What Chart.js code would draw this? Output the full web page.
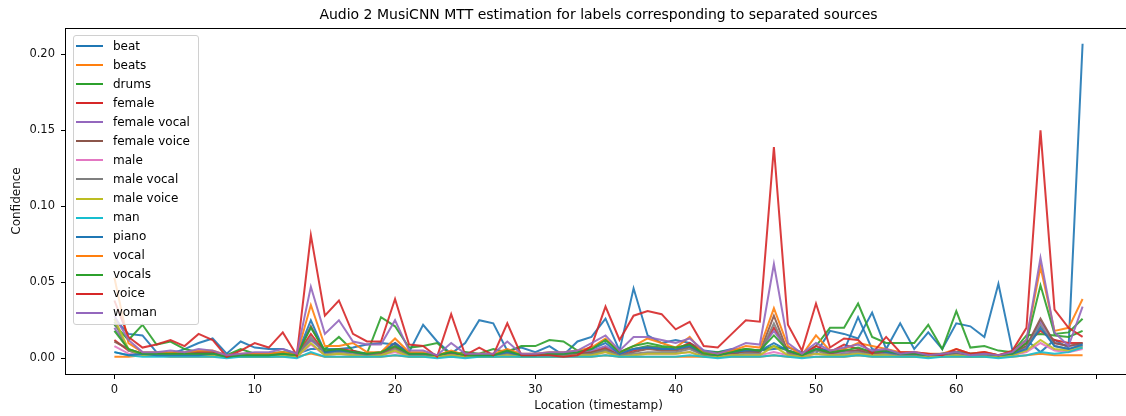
<!DOCTYPE html>
<html>
<head>
<meta charset="utf-8">
<script src="https://cdn.jsdelivr.net/npm/chart.js@4/dist/chart.umd.min.js"></script>
<style>
  html, body { margin: 0; padding: 0; background: #fff; overflow: hidden; }
  #wrap { position: relative; width: 1126px; height: 416px; overflow: hidden; }
  #legend {
    position: absolute; left: 73px; top: 35px; width: 124px; height: 288px;
    background: rgba(255,255,255,0.8); border: 1px solid #d0d0d0; border-radius: 3px;
    font-family: 'DejaVu Sans', sans-serif; font-size: 12px; color: #000;
  }
  #legend .row { position: absolute; left: 0; height: 19px; line-height: 19px; white-space: nowrap; }
  #legend .swatch { position: absolute; left: 2px; top: 8.5px; width: 27px; height: 2px; }
  #legend .txt { position: absolute; left: 39px; top: 0; }
</style>
</head>
<body>
<div id="wrap">
  <canvas id="chart" width="1140" height="416"></canvas>
  <div id="legend"></div>
</div>
<script>
// x locations (timestamps)
const locations = [0,1,2,3,4,5,6,7,8,9,10,11,12,13,14,15,16,17,18,19,20,21,22,23,24,25,26,27,28,29,
  30,31,32,33,34,35,36,37,38,39,40,41,42,43,44,45,46,47,48,49,50,51,52,53,54,55,56,57,58,59,
  60,61,62,63,64,65,66,67,68,69];

const labelNames = ['beat', 'beats', 'drums', 'female', 'female vocal', 'female voice', 'male',
  'male vocal', 'male voice', 'man', 'piano', 'vocal', 'vocals', 'voice', 'woman'];

const colors = ['#1f77b4', '#ff7f0e', '#2ca02c', '#d62728', '#9467bd', '#8c564b', '#e377c2',
  '#7f7f7f', '#bcbd22', '#17becf', '#1f77b4', '#ff7f0e', '#2ca02c', '#d62728', '#9467bd'];

const xTicks = [0, 10, 20, 30, 40, 50, 60, 70];
const yTicks = [0.00, 0.05, 0.10, 0.15, 0.20];

const beat = [0.026,0.016,0.015,0.004,0.003,0.006,0.010,0.013,0.003,0.011,
  0.007,0.006,0.006,0.003,0.006,0.006,0.006,0.007,0.009,0.010,
  0.009,0.004,0.022,0.011,0.003,0.010,0.025,0.023,0.005,0.007,
  0.004,0.008,0.002,0.011,0.014,0.026,0.005,0.046,0.015,0.010,
  0.012,0.010,0.005,0.004,0.006,0.005,0.005,0.006,0.007,0.004,
  0.003,0.018,0.016,0.013,0.030,0.006,0.023,0.006,0.017,0.006,
  0.023,0.021,0.014,0.049,0.005,0.012,0.004,0.012,0.007,0.207];

const beats = [0.001,0.001,0.002,0.002,0.001,0.001,0.001,0.001,0.001,0.001,
  0.001,0.001,0.001,0.001,0.003,0.001,0.001,0.001,0.001,0.001,
  0.002,0.001,0.001,0.001,0.001,0.001,0.001,0.001,0.001,0.001,
  0.001,0.001,0.001,0.001,0.001,0.002,0.001,0.001,0.001,0.001,
  0.001,0.001,0.001,0.001,0.001,0.001,0.001,0.002,0.001,0.001,
  0.001,0.001,0.001,0.002,0.001,0.001,0.001,0.001,0.001,0.001,
  0.001,0.001,0.001,0.001,0.001,0.002,0.003,0.002,0.002,0.002];

const drums = [0.022,0.012,0.022,0.009,0.011,0.006,0.004,0.004,0.002,0.006,
  0.003,0.003,0.004,0.003,0.012,0.006,0.014,0.005,0.003,0.027,
  0.021,0.007,0.008,0.010,0.002,0.004,0.003,0.006,0.004,0.008,
  0.008,0.012,0.011,0.005,0.003,0.005,0.004,0.006,0.008,0.007,
  0.006,0.009,0.004,0.004,0.005,0.006,0.005,0.008,0.005,0.003,
  0.008,0.020,0.020,0.036,0.014,0.010,0.010,0.010,0.022,0.006,
  0.031,0.007,0.008,0.005,0.004,0.015,0.016,0.015,0.014,0.018];

const female = [0.012,0.005,0.003,0.003,0.003,0.003,0.004,0.004,0.001,0.002,
  0.003,0.002,0.003,0.002,0.016,0.004,0.006,0.005,0.002,0.003,
  0.010,0.003,0.003,0.001,0.004,0.001,0.002,0.002,0.004,0.002,
  0.002,0.002,0.002,0.003,0.004,0.007,0.003,0.005,0.007,0.006,
  0.006,0.010,0.003,0.002,0.003,0.005,0.004,0.020,0.005,0.002,
  0.008,0.004,0.009,0.006,0.004,0.004,0.003,0.003,0.002,0.002,
  0.004,0.002,0.003,0.002,0.003,0.010,0.018,0.012,0.010,0.010];

const femaleVocal = [0.020,0.006,0.003,0.003,0.003,0.003,0.003,0.003,0.001,0.002,
  0.002,0.002,0.003,0.002,0.012,0.004,0.005,0.004,0.002,0.003,
  0.008,0.002,0.002,0.001,0.003,0.002,0.002,0.002,0.004,0.002,
  0.002,0.002,0.002,0.003,0.005,0.008,0.003,0.006,0.007,0.006,
  0.006,0.008,0.002,0.002,0.003,0.005,0.005,0.018,0.005,0.002,
  0.006,0.003,0.004,0.005,0.003,0.004,0.002,0.002,0.002,0.002,
  0.003,0.002,0.002,0.002,0.003,0.008,0.024,0.010,0.008,0.009];

const femaleVoice = [0.011,0.006,0.003,0.003,0.003,0.003,0.003,0.003,0.001,0.002,
  0.002,0.002,0.003,0.002,0.021,0.004,0.005,0.004,0.002,0.003,
  0.007,0.002,0.002,0.001,0.003,0.001,0.002,0.002,0.003,0.002,
  0.002,0.002,0.002,0.003,0.004,0.006,0.002,0.004,0.006,0.005,
  0.005,0.007,0.002,0.002,0.003,0.004,0.004,0.028,0.004,0.001,
  0.006,0.003,0.005,0.005,0.003,0.004,0.002,0.002,0.002,0.002,
  0.003,0.002,0.002,0.001,0.003,0.008,0.026,0.010,0.008,0.010];

const male = [0.008,0.003,0.002,0.002,0.002,0.002,0.002,0.002,0.001,0.001,
  0.001,0.001,0.002,0.001,0.009,0.002,0.003,0.002,0.001,0.002,
  0.004,0.001,0.001,0.001,0.002,0.001,0.001,0.001,0.002,0.001,
  0.001,0.001,0.001,0.002,0.002,0.004,0.001,0.002,0.003,0.003,
  0.003,0.004,0.001,0.001,0.002,0.002,0.002,0.004,0.002,0.001,
  0.003,0.002,0.002,0.003,0.002,0.002,0.001,0.001,0.001,0.001,
  0.002,0.001,0.001,0.001,0.002,0.004,0.010,0.005,0.004,0.006];

const maleVocal = [0.024,0.005,0.002,0.002,0.002,0.002,0.002,0.002,0.001,0.001,
  0.001,0.001,0.002,0.001,0.014,0.003,0.004,0.003,0.002,0.002,
  0.006,0.002,0.002,0.001,0.002,0.001,0.001,0.001,0.003,0.001,
  0.001,0.002,0.002,0.002,0.003,0.005,0.002,0.003,0.004,0.004,
  0.004,0.006,0.002,0.001,0.002,0.003,0.003,0.023,0.003,0.001,
  0.005,0.002,0.003,0.004,0.002,0.003,0.002,0.002,0.001,0.002,
  0.002,0.001,0.002,0.001,0.002,0.007,0.022,0.008,0.006,0.008];

const maleVoice = [0.026,0.006,0.002,0.002,0.002,0.002,0.002,0.002,0.001,0.001,
  0.001,0.001,0.002,0.001,0.010,0.002,0.003,0.002,0.001,0.002,
  0.005,0.001,0.001,0.001,0.002,0.001,0.001,0.001,0.002,0.001,
  0.001,0.001,0.001,0.002,0.002,0.004,0.001,0.002,0.003,0.003,
  0.003,0.004,0.001,0.001,0.002,0.002,0.002,0.008,0.002,0.001,
  0.003,0.002,0.002,0.003,0.002,0.002,0.001,0.001,0.001,0.001,
  0.002,0.001,0.001,0.001,0.002,0.005,0.012,0.006,0.005,0.007];

const man = [0.004,0.002,0.001,0.001,0.001,0.001,0.001,0.001,0.000,0.001,
  0.001,0.001,0.001,0.000,0.004,0.001,0.001,0.001,0.001,0.001,
  0.002,0.001,0.001,0.000,0.001,0.000,0.001,0.001,0.001,0.001,
  0.001,0.001,0.001,0.001,0.001,0.002,0.001,0.001,0.001,0.001,
  0.001,0.002,0.001,0.000,0.001,0.001,0.001,0.002,0.001,0.000,
  0.001,0.001,0.001,0.002,0.001,0.001,0.001,0.001,0.000,0.001,
  0.001,0.001,0.001,0.000,0.001,0.002,0.004,0.003,0.004,0.007];

const piano = [0.004,0.002,0.003,0.002,0.002,0.002,0.002,0.003,0.001,0.002,
  0.002,0.002,0.003,0.002,0.025,0.004,0.005,0.004,0.003,0.004,
  0.010,0.003,0.003,0.002,0.004,0.002,0.002,0.002,0.004,0.002,
  0.002,0.003,0.003,0.004,0.006,0.010,0.003,0.006,0.007,0.006,
  0.006,0.008,0.003,0.002,0.004,0.005,0.005,0.010,0.005,0.002,
  0.006,0.005,0.005,0.027,0.006,0.004,0.003,0.003,0.002,0.003,
  0.004,0.003,0.003,0.002,0.003,0.006,0.020,0.008,0.006,0.009];

const vocal = [0.053,0.010,0.004,0.004,0.004,0.004,0.005,0.005,0.002,0.003,
  0.003,0.003,0.004,0.002,0.035,0.008,0.008,0.010,0.004,0.004,
  0.013,0.004,0.004,0.002,0.005,0.002,0.003,0.003,0.006,0.003,
  0.003,0.004,0.004,0.005,0.007,0.013,0.004,0.008,0.013,0.010,
  0.007,0.014,0.003,0.003,0.005,0.008,0.007,0.033,0.008,0.002,
  0.015,0.005,0.006,0.010,0.008,0.006,0.004,0.004,0.003,0.003,
  0.006,0.003,0.004,0.002,0.004,0.012,0.060,0.018,0.020,0.039];

const vocals = [0.018,0.006,0.003,0.003,0.003,0.003,0.003,0.003,0.001,0.002,
  0.002,0.002,0.003,0.002,0.020,0.005,0.006,0.004,0.003,0.004,
  0.008,0.003,0.003,0.002,0.004,0.002,0.002,0.002,0.005,0.002,
  0.002,0.003,0.003,0.004,0.006,0.012,0.004,0.008,0.010,0.008,
  0.007,0.009,0.003,0.002,0.004,0.006,0.005,0.015,0.005,0.002,
  0.006,0.004,0.005,0.007,0.004,0.005,0.003,0.003,0.002,0.003,
  0.004,0.003,0.003,0.002,0.003,0.010,0.048,0.016,0.017,0.026];

const voice = [0.038,0.014,0.007,0.009,0.012,0.008,0.016,0.012,0.001,0.005,
  0.010,0.007,0.017,0.002,0.081,0.028,0.038,0.016,0.011,0.011,
  0.039,0.009,0.008,0.001,0.029,0.002,0.007,0.002,0.023,0.002,
  0.002,0.002,0.001,0.002,0.008,0.034,0.012,0.028,0.031,0.029,
  0.019,0.024,0.008,0.007,0.016,0.025,0.024,0.139,0.022,0.005,
  0.036,0.007,0.013,0.012,0.003,0.014,0.004,0.004,0.003,0.002,
  0.006,0.003,0.004,0.002,0.005,0.020,0.150,0.032,0.020,0.014];

const woman = [0.028,0.012,0.004,0.004,0.005,0.004,0.006,0.005,0.002,0.003,
  0.004,0.004,0.006,0.003,0.047,0.016,0.025,0.011,0.009,0.009,
  0.025,0.005,0.005,0.002,0.010,0.003,0.003,0.003,0.011,0.003,
  0.003,0.004,0.004,0.005,0.010,0.015,0.005,0.014,0.014,0.012,
  0.010,0.013,0.005,0.003,0.006,0.010,0.009,0.062,0.010,0.003,
  0.010,0.005,0.007,0.009,0.005,0.006,0.003,0.004,0.002,0.003,
  0.004,0.002,0.003,0.002,0.004,0.012,0.066,0.017,0.008,0.034];

const seriesValues = [beat, beats, drums, female, femaleVocal, femaleVoice, male,
  maleVocal, maleVoice, man, piano, vocal, vocals, voice, woman];

Chart.defaults.font.family = "'DejaVu Sans', sans-serif";
Chart.defaults.color = '#111';

const datasets = labelNames.map((name, i) => ({
  label: name,
  data: locations.map((x, j) => ({ x: x, y: seriesValues[i][j] })),
  borderColor: colors[i] + 'e6',
  backgroundColor: colors[i],
  borderWidth: 2,
  pointRadius: 0,
  tension: 0,
  fill: false,
  order: labelNames.length - i  // later series on top, like matplotlib
}));

// axes frame (spines) and title, drawn matplotlib-style
const framePlugin = {
  id: 'frame',
  afterDatasetsDraw(chart) {
    const { ctx, chartArea: a } = chart;
    ctx.save();
    ctx.strokeStyle = '#000';
    ctx.lineWidth = 1;
    ctx.strokeRect(Math.round(a.left) - 0.5, Math.round(a.top) + 0.5,
      Math.round(a.right - a.left), Math.round(a.bottom - a.top));
    ctx.fillStyle = '#000';
    ctx.font = "14px 'DejaVu Sans'";
    ctx.textAlign = 'center';
    ctx.textBaseline = 'middle';
    ctx.fillText('Audio 2 MusiCNN MTT estimation for labels corresponding to separated sources',
      (a.left + a.right) / 2, 15);
    ctx.restore();
  }
};

new Chart(document.getElementById('chart'), {
  type: 'line',
  data: { datasets: datasets },
  options: {
    responsive: false,
    animation: false,
    layout: { padding: { top: 28, right: 9, left: 0, bottom: 0 } },
    plugins: {
      legend: { display: false },
      tooltip: { enabled: false },
      title: { display: false }
    },
    scales: {
      x: {
        type: 'linear',
        min: -3.45,
        max: 72.45,
        afterFit: (scale) => { scale.height = 42; },
        afterBuildTicks: (scale) => { scale.ticks = xTicks.map(v => ({ value: v })); },
        ticks: {
          font: { size: 11.5 },
          padding: 4,
          autoSkip: false,
          maxRotation: 0,
          callback: (v) => (v === 70 ? '' : String(v))
        },
        grid: { display: true, drawOnChartArea: false, drawTicks: true, tickLength: 5, tickColor: '#000' },
        border: { display: false },
        title: { display: true, text: 'Location (timestamp)', font: { size: 12 }, padding: { top: 0, bottom: 3 } }
      },
      y: {
        type: 'linear',
        min: -0.0104,
        max: 0.2174,
        afterFit: (scale) => { scale.width = 66; },
        afterBuildTicks: (scale) => { scale.ticks = yTicks.map(v => ({ value: v })); },
        ticks: {
          font: { size: 11.5 },
          padding: 6,
          callback: (v) => v.toFixed(2)
        },
        grid: { display: true, drawOnChartArea: false, drawTicks: true, tickLength: 5, tickColor: '#000' },
        border: { display: false },
        title: { display: true, text: 'Confidence', font: { size: 12 }, padding: { top: 10, bottom: 0 } }
      }
    }
  },
  plugins: [framePlugin]
});

// legend inside the axes, upper left
const legendEl = document.getElementById('legend');
labelNames.forEach((name, i) => {
  const row = document.createElement('div');
  row.className = 'row';
  row.style.top = (0.5 + 19.07 * i) + 'px';
  const sw = document.createElement('span');
  sw.className = 'swatch';
  sw.style.background = colors[i];
  const tx = document.createElement('span');
  tx.className = 'txt';
  tx.textContent = name;
  row.appendChild(sw);
  row.appendChild(tx);
  legendEl.appendChild(row);
});
</script>
</body>
</html>
